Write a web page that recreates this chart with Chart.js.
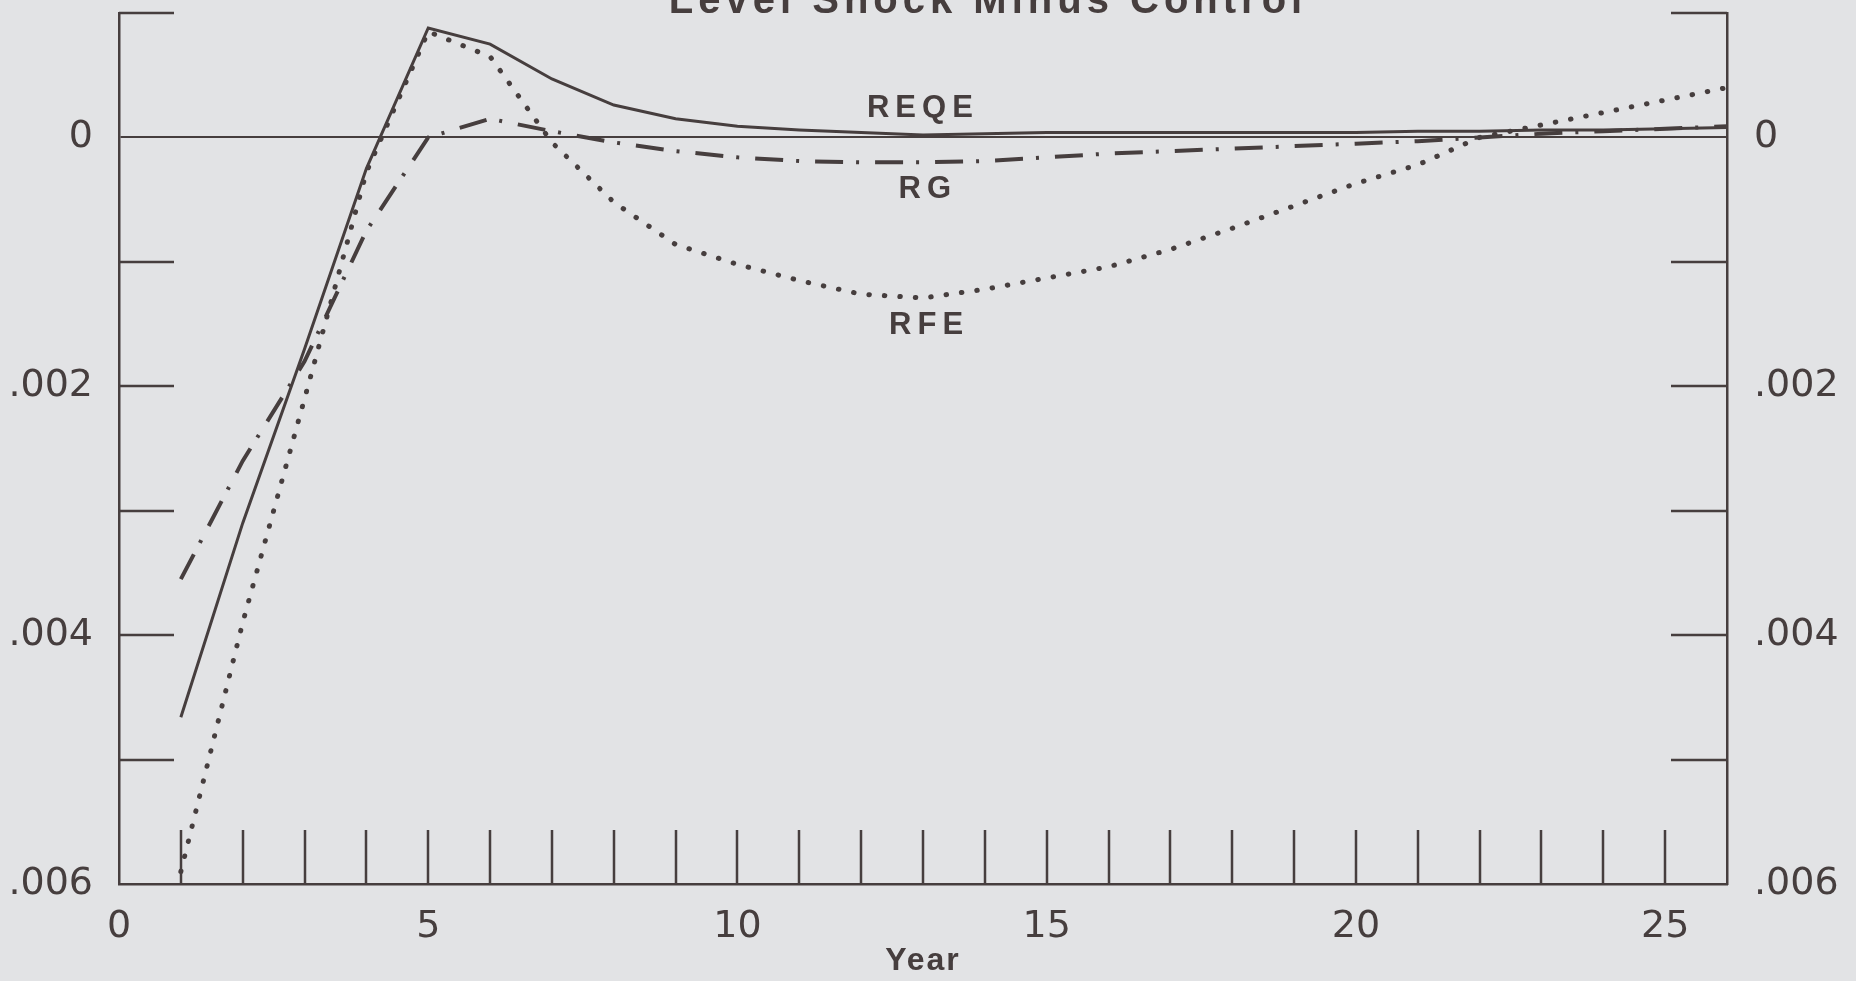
<!DOCTYPE html>
<html>
<head>
<meta charset="utf-8">
<script src="https://cdn.jsdelivr.net/npm/chart.js@4.4.1/dist/chart.umd.min.js"></script>
<style>
  html,body{margin:0;padding:0;background:#e2e3e5;}
  #wrap{width:1856px;height:981px;position:relative;}
</style>
</head>
<body>
<div id="wrap"><canvas id="c"></canvas></div>
<script>
// ---------------- DATA ----------------
const years = [1,2,3,4,5,6,7,8,9,10,11,12,13,14,15,16,17,18,19,20,21,22,23,24,25,26];
const reqe = [-0.00466,-0.0031,-0.0017,-0.00025,0.00088,0.00075,0.00047,0.00026,0.00015,0.00009,
              0.00006,0.00004,0.00002,0.00003,0.00004,0.00004,0.00004,0.00004,0.00004,0.00004,
              0.00005,0.00005,0.00006,0.00006,0.00007,0.00008];
const rg   = [-0.00355,-0.0026,-0.0018,-0.00075,0.0,0.00015,0.00005,-0.00004,-0.00011,-0.00016,
              -0.00019,-0.0002,-0.0002,-0.00019,-0.00016,-0.00013,-0.00011,-0.00009,-0.00007,-0.00005,
              -0.00003,0.0,0.00003,0.00005,0.00007,0.00009];
const rfe  = [-0.0059,-0.0039,-0.0021,-0.00028,0.00085,0.00065,-0.00004,-0.00052,-0.00086,-0.00102,
              -0.00115,-0.00126,-0.00129,-0.00122,-0.00113,-0.00104,-0.0009,-0.00073,-0.00055,-0.00037,
              -0.00022,0.0,0.0001,0.0002,0.0003,0.0004];
const xLabelYears = [0,5,10,15,20,25];
const yLabelVals = [0,-0.002,-0.004,-0.006];
const yMinorVals = [0.001,-0.001,-0.002,-0.003,-0.004,-0.005];
const seriesNames = ["REQE","RG","RFE"];

const ink = "#463e3e";
const numFont = {family:"'DejaVu Sans', sans-serif", size:38, weight:"normal"};

// ---------------- PLUGINS ----------------
// inward ticks, title, series names, axis title
const decor = {
  id:"decor",
  afterDraw(chart){
    const {ctx, chartArea:a, scales:{x,y}} = chart;
    ctx.save();
    ctx.strokeStyle = ink; ctx.lineWidth = 2.5;
    ctx.beginPath();
    yMinorVals.forEach(v=>{
      const py = Math.round(y.getPixelForValue(v));
      ctx.moveTo(a.left, py); ctx.lineTo(a.left+55, py);
      ctx.moveTo(a.right-56, py); ctx.lineTo(a.right, py);
    });
    for(let yr=1; yr<26; yr++){
      const px = Math.round(x.getPixelForValue(yr));
      ctx.moveTo(px, a.bottom); ctx.lineTo(px, a.bottom-54);
    }
    ctx.stroke();

    ctx.fillStyle = ink;
    ctx.textAlign = "center";
    // title, cut at the top edge like the scan
    ctx.letterSpacing = "5px";
    ctx.font = "bold 40px 'Liberation Sans', Arial, sans-serif";
    ctx.textBaseline = "alphabetic";
    ctx.fillText("Level Shock Minus Control", 988, 13);

    // series names
    ctx.letterSpacing = "6px";
    ctx.font = "bold 31px 'Liberation Sans', Arial, sans-serif";
    ctx.textBaseline = "middle";
    const spots = [[12.95,0.00023],[13.03,-0.00042],[13.05,-0.00151]];
    seriesNames.forEach((n,i)=>{
      ctx.fillText(n, x.getPixelForValue(spots[i][0])+3, y.getPixelForValue(spots[i][1]));
    });

    // axis title
    ctx.letterSpacing = "2px";
    ctx.font = "bold 32px 'Liberation Sans', Arial, sans-serif";
    ctx.fillText("Year", 923, 961);
    ctx.restore();
  }
};

// ---------------- CHART ----------------
const fmt = v => {
  const r = Math.round(v*1000)/1000;
  if(!yLabelVals.some(t=>Math.abs(t-r)<1e-9) || Math.abs(v-r)>1e-9) return "";
  if(r===0) return "0";
  return Math.abs(r).toFixed(3).replace(/^0/,"");
};
const noPad = s => { s.paddingTop = 0; s.paddingBottom = 0; s.paddingLeft = 0; s.paddingRight = 0; };

const chart = new Chart(document.getElementById("c"),{
  type:"line",
  data:{
    datasets:[
      {label:"REQE", data:years.map((yr,i)=>({x:yr,y:reqe[i]})), borderColor:ink, borderWidth:3, pointRadius:0, tension:0},
      {label:"RG", data:years.map((yr,i)=>({x:yr,y:rg[i]})), borderColor:ink, borderWidth:4, borderDash:[28,13,3,16], pointRadius:0, tension:0},
      {label:"RFE", data:years.map((yr,i)=>({x:yr,y:rfe[i]})), borderColor:ink, borderWidth:5, borderDash:[0.5,15], borderCapStyle:"round", pointRadius:0, tension:0}
    ]
  },
  options:{
    responsive:true, maintainAspectRatio:false, animation:false,
    layout:{padding:{top:13,left:0,right:0,bottom:0}},
    plugins:{legend:{display:false}, tooltip:{enabled:false}},
    scales:{
      x:{
        type:"linear", min:0, max:26,
        afterFit(s){ s.height = 97; noPad(s); },
        grid:{display:false, drawTicks:false},
        border:{display:true, color:ink, width:2.5},
        ticks:{stepSize:1, autoSkip:false, maxRotation:0, padding:20, color:ink, font:numFont,
          callback:v=>xLabelYears.includes(v)?String(v):""}
      },
      y:{
        position:"left", min:-0.006, max:0.001,
        afterFit(s){ s.width = 119; noPad(s); },
        grid:{drawTicks:false, lineWidth:2, color:c=>c.tick && c.tick.value===0 ? ink : "transparent"},
        border:{display:true, color:ink, width:2.5},
        ticks:{stepSize:0.001, autoSkip:false, padding:26, color:ink, font:numFont, callback:fmt}
      },
      y2:{
        position:"right", min:-0.006, max:0.001,
        afterFit(s){ s.width = 129; noPad(s); },
        grid:{display:false, drawTicks:false},
        border:{display:true, color:ink, width:2.5},
        ticks:{stepSize:0.001, autoSkip:false, padding:27, color:ink, font:numFont, callback:fmt}
      }
    }
  },
  plugins:[decor]
});
</script>
</body>
</html>
